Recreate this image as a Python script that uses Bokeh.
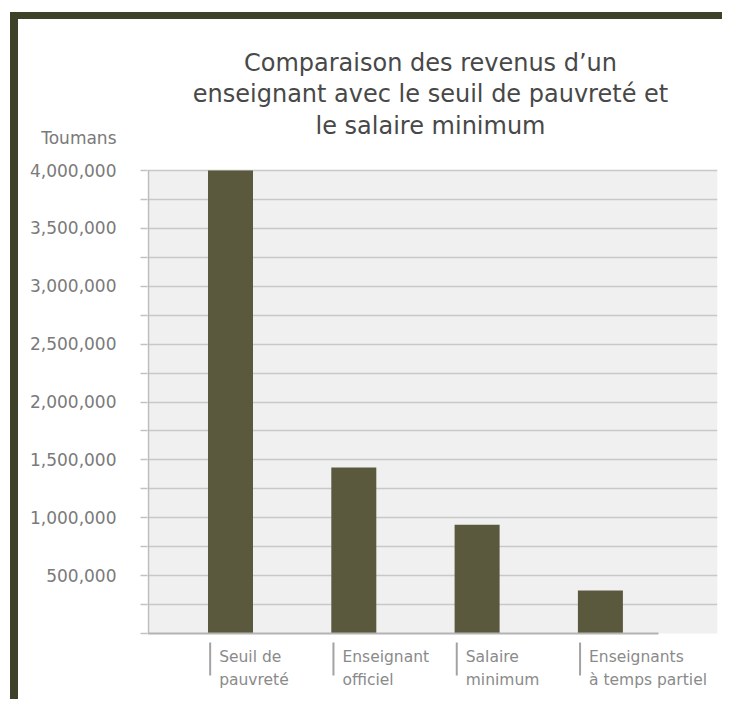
from bokeh.plotting import figure
from bokeh.models import (Range1d, FixedTicker, NumeralTickFormatter, Label,
                          ColumnDataSource, BoxAnnotation)
from bokeh.embed import file_html
from bokeh.resources import INLINE

# ---- data ----
categories = ["Seuil de\npauvreté", "Enseignant\nofficiel", "Salaire\nminimum",
              "Enseignants\nà temps partiel"]
values = [4000000, 1435000, 940000, 372000]
title_lines = ["Comparaison des revenus d\u2019un",
               "enseignant avec le seuil de pauvreté et",
               "le salaire minimum"]
y_unit_label = "Toumans"
y_ticks = [500000, 1000000, 1500000, 2000000, 2500000, 3000000, 3500000, 4000000]
y_steps = [0, 250000, 500000, 750000, 1000000, 1250000, 1500000, 1750000, 2000000,
           2250000, 2500000, 2750000, 3000000, 3250000, 3500000, 3750000, 4000000]

# ---- geometry (picture px) ----
W, H = 722, 699
FR_L, FR_R = 147, 717          # frame (drawing area) horizontally
PL_T, PL_B = 170, 633          # plot area: 4,000,000 at PL_T, 0 at PL_B
C0, STEP = 230.0, 123.3        # first bar centre, bar spacing
Y_MAX = 4000000

def dx(px):
    return (px - C0) / STEP

def dy(py):
    return (PL_B - py) / (PL_B - PL_T) * Y_MAX

FONT = "DejaVu Sans"
BAR = "#5a593d"
BORDER = "#3e4228"

p = figure(width=W, height=H, output_backend="svg", toolbar_location=None,
           x_axis_location=None, title="",
           x_range=Range1d(dx(FR_L), dx(FR_R)), y_range=Range1d(dy(H), dy(0)),
           min_border_left=FR_L, min_border_right=W - FR_R,
           min_border_top=0, min_border_bottom=0)
p.background_fill_color = None
p.border_fill_color = None
p.outline_line_color = None
p.styles = {
    "background": ("linear-gradient(%s,%s) 10px 12px / 8px 100%% no-repeat, "
                   "linear-gradient(%s,%s) 10px 12px / 100%% 7px no-repeat, white")
                  % (BORDER, BORDER, BORDER, BORDER)
}

# grey plot area
p.add_layout(BoxAnnotation(bottom=0, top=Y_MAX, fill_color="#f0f0f0", fill_alpha=1,
                           line_alpha=0, level="image"))

# grid
p.xgrid.grid_line_color = None
p.ygrid.ticker = FixedTicker(ticks=y_steps[1:], minor_ticks=[])
p.ygrid.grid_line_color = "#c8c8c8"
p.ygrid.grid_line_width = 1.5

# bars
xs = list(range(len(categories)))
src = ColumnDataSource(dict(x=xs, top=values))
p.vbar(x="x", top="top", width=0.365, source=src, fill_color=BAR, line_color=None)

# axis lines
p.segment(x0=[dx(FR_L)], y0=[0], x1=[dx(658)], y1=[0], line_color="#b3b3b3", line_width=2)
p.segment(x0=[dx(148)], y0=[0], x1=[dx(148)], y1=[Y_MAX], line_color="#bcbcbc", line_width=1.5)

# y axis: tick labels + unit label
unit_y = dy(137)
ya = p.yaxis[0]
ya.ticker = FixedTicker(ticks=y_ticks + [unit_y], minor_ticks=y_steps)
ya.formatter = NumeralTickFormatter(format="0,0")
ya.major_label_overrides = {unit_y: y_unit_label}
ya.major_label_text_font = FONT
ya.major_label_text_font_size = "17px"
ya.major_label_text_color = "#7a7a7a"
ya.axis_line_color = None
ya.major_tick_line_color = None
ya.major_tick_out = 0
ya.major_tick_in = 0
ya.minor_tick_line_color = "#c2c2c2"
ya.minor_tick_line_width = 1.5
ya.minor_tick_out = 7
ya.minor_tick_in = 0
ya.major_label_standoff = 24

# category separators and labels
sep_x = [x - 0.165 for x in xs]
p.segment(x0=sep_x, y0=[dy(642)] * len(xs), x1=sep_x, y1=[dy(675)] * len(xs),
          line_color="#a3a3a3", line_width=2)
lab_src = ColumnDataSource(dict(x=[s + 9 / STEP for s in sep_x],
                                y=[dy(647)] * len(xs), text=categories))
p.text(x="x", y="y", text="text", source=lab_src, text_font={"value": FONT},
       text_font_size="15.5px", text_color="#8a8a8a", text_align="left",
       text_baseline="top", text_line_height=1.3)

# title
for i, t in enumerate(title_lines):
    p.add_layout(Label(x=dx(430), y=dy(62 + 31.5 * i), text=t, text_font=FONT,
                       text_font_size="24px", text_color="#484848",
                       text_align="center", text_baseline="middle"))

open("out.html", "w").write(file_html(p, INLINE))
